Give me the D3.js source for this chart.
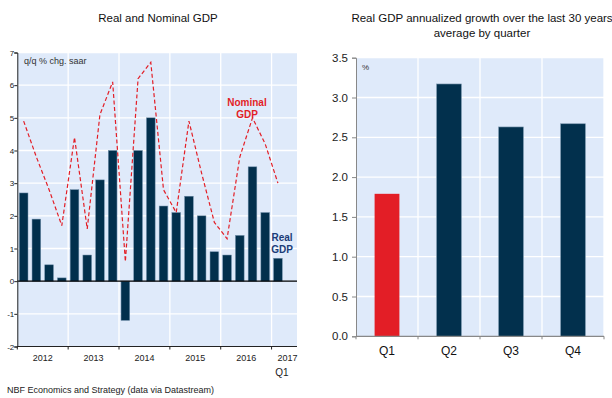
<!DOCTYPE html>
<html>
<head>
<meta charset="utf-8">
<script src="https://cdn.jsdelivr.net/npm/d3@7"></script>
<style>
  html, body { margin: 0; padding: 0; background: #fff; }
  svg { display: block; font-family: "Liberation Sans", Arial, sans-serif; }
  .narrow { font-family: "Liberation Sans Narrow", "Liberation Sans", Arial, sans-serif; }
</style>
</head>
<body>
<svg id="chart" width="612" height="398"></svg>
<script>
// Quarterly US GDP, q/q % change at a seasonally adjusted annual rate
const quarters = [
  "2012Q1","2012Q2","2012Q3","2012Q4",
  "2013Q1","2013Q2","2013Q3","2013Q4",
  "2014Q1","2014Q2","2014Q3","2014Q4",
  "2015Q1","2015Q2","2015Q3","2015Q4",
  "2016Q1","2016Q2","2016Q3","2016Q4",
  "2017Q1","2017Q2"
];
const realGDP = [2.7, 1.9, 0.5, 0.1, 2.8, 0.8, 3.1, 4.0, -1.2, 4.0, 5.0, 2.3,
                 2.1, 2.6, 2.0, 0.9, 0.8, 1.4, 3.5, 2.1, 0.7];
const nominalGDP = [4.9, 3.8, 2.8, 1.7, 4.4, 1.6, 5.1, 6.1, 0.6, 6.2, 6.7, 2.8,
                    2.1, 4.9, 3.3, 1.8, 1.3, 3.8, 5.0, 4.2, 3.0];
const yearLabels = ["2012", "2013", "2014", "2015", "2016", "2017"];
const leftTicks = [-2, -1, 0, 1, 2, 3, 4, 5, 6, 7];

// 30-year average of annualized real GDP growth, by quarter
const quarterNames = ["Q1", "Q2", "Q3", "Q4"];
const quarterAvg = [1.79, 3.17, 2.63, 2.67];
const rightTicks = [0, 0.5, 1, 1.5, 2, 2.5, 3, 3.5];

const svg = d3.select("#chart");
const BG = "#dfeafa";
const NAVY = "#02304d";
const RED = "#e31e26";

// ---------- Left panel: Real and Nominal GDP ----------
const L = { x0: 17.3, x1: 297, yTop: 52.5, yBot: 346.5 };
const xL = d3.scaleBand().domain(quarters).range([L.x0, L.x1]).paddingInner(0.32).paddingOuter(0.16);
const yL = d3.scaleLinear().domain([-2, 7]).range([L.yBot, L.yTop]);
const step = xL.step();
const yearEdge = i => L.x0 + i * 4 * step;

const gL = svg.append("g");
gL.append("rect").attr("x", L.x0).attr("y", L.yTop)
  .attr("width", L.x1 - L.x0).attr("height", L.yBot - L.yTop).attr("fill", BG);

// gridlines
gL.selectAll("line.hgrid").data(leftTicks.filter(d => d !== -2 && d !== 0)).join("line")
  .attr("x1", L.x0).attr("x2", L.x1).attr("y1", d => yL(d)).attr("y2", d => yL(d))
  .attr("stroke", "#fff").attr("stroke-width", 1.3);
gL.selectAll("line.vgrid").data(d3.range(1, 6)).join("line")
  .attr("x1", d => yearEdge(d)).attr("x2", d => yearEdge(d))
  .attr("y1", L.yTop).attr("y2", L.yBot)
  .attr("stroke", "#fff").attr("stroke-width", 1.3);

// bars
gL.selectAll("rect.bar").data(realGDP).join("rect")
  .attr("x", (d, i) => xL(quarters[i]))
  .attr("width", xL.bandwidth())
  .attr("y", d => yL(Math.max(0, d)))
  .attr("height", d => Math.abs(yL(d) - yL(0)))
  .attr("fill", NAVY).attr("stroke", "#6b8aa6").attr("stroke-width", 0.5);

// zero line
gL.append("line").attr("x1", L.x0).attr("x2", L.x1)
  .attr("y1", yL(0)).attr("y2", yL(0)).attr("stroke", "#000").attr("stroke-width", 1.2);

// nominal GDP dashed line
const line = d3.line()
  .x((d, i) => xL(quarters[i]) + xL.bandwidth() / 2)
  .y(d => yL(d));
gL.append("path").datum(nominalGDP).attr("d", line)
  .attr("fill", "none").attr("stroke", RED).attr("stroke-width", 1.2)
  .attr("stroke-dasharray", "4,2.5");

// y axis (plain hyphen for negatives)
const axL = d3.axisLeft(yL).tickValues(leftTicks).tickSize(3).tickFormat(d => String(d));
const gAxL = gL.append("g").attr("transform", `translate(${L.x0},0)`).call(axL);
gAxL.select(".domain").attr("stroke", "#222");
gAxL.selectAll(".tick line").attr("stroke", "#222");
gAxL.selectAll(".tick text").attr("class", "narrow").attr("font-size", 8).attr("fill", "#222").attr("x", -3);

// x axis with year boundaries
const gX = gL.append("g");
gX.append("line").attr("x1", L.x0).attr("x2", L.x1).attr("y1", L.yBot).attr("y2", L.yBot)
  .attr("stroke", "#222").attr("stroke-width", 1.2);
gX.selectAll("line.tk").data(d3.range(0, 6)).join("line")
  .attr("x1", d => yearEdge(d)).attr("x2", d => yearEdge(d))
  .attr("y1", L.yBot).attr("y2", L.yBot + 3).attr("stroke", "#222");
gX.selectAll("text.yr").data(yearLabels).join("text")
  .attr("class", "narrow")
  .attr("x", (d, i) => i < 5 ? yearEdge(i) + 2 * step : yearEdge(5) + 1.25 * step)
  .attr("y", 361).attr("text-anchor", "middle").attr("font-size", 9).attr("fill", "#222")
  .text(d => d);
gX.append("text").attr("x", xL("2017Q1") + xL.bandwidth() / 2 + 4).attr("y", 376)
  .attr("text-anchor", "middle").attr("font-size", 10).attr("fill", "#222").text("Q1");

gL.append("text").attr("x", 24).attr("y", 64).attr("font-size", 9).attr("fill", "#333")
  .text("q/q % chg. saar");

// series labels
const nomLbl = gL.append("text").attr("text-anchor", "middle").attr("font-size", 10)
  .attr("font-weight", "bold").attr("fill", RED);
nomLbl.append("tspan").attr("x", 247).attr("y", 106).text("Nominal");
nomLbl.append("tspan").attr("x", 247).attr("y", 118).text("GDP");
const realLbl = gL.append("text").attr("text-anchor", "middle").attr("font-size", 10)
  .attr("font-weight", "bold").attr("fill", "#1b3c78");
realLbl.append("tspan").attr("x", 282).attr("y", 241).text("Real");
realLbl.append("tspan").attr("x", 282).attr("y", 253).text("GDP");

svg.append("text").attr("x", 158).attr("y", 22).attr("text-anchor", "middle")
  .attr("font-size", 11.5).attr("fill", "#111").text("Real and Nominal GDP");

// ---------- Right panel: average growth by quarter ----------
const R = { x0: 356, x1: 604, yTop: 57.7, yBot: 336.3 };
const xR = d3.scaleBand().domain(quarterNames).range([R.x0, R.x1]).paddingInner(0.6).paddingOuter(0.3);
const yR = d3.scaleLinear().domain([0, 3.5]).range([R.yBot, R.yTop]);
const stepR = xR.step();

const gR = svg.append("g");
gR.append("rect").attr("x", R.x0).attr("y", R.yTop)
  .attr("width", R.x1 - R.x0).attr("height", R.yBot - R.yTop).attr("fill", BG);
gR.selectAll("line.hgrid").data(rightTicks.slice(1)).join("line")
  .attr("x1", R.x0).attr("x2", R.x1).attr("y1", d => yR(d)).attr("y2", d => yR(d))
  .attr("stroke", "#fff").attr("stroke-width", 1.3);
gR.selectAll("line.vgrid").data(d3.range(1, 5)).join("line")
  .attr("x1", d => R.x0 + d * stepR).attr("x2", d => R.x0 + d * stepR)
  .attr("y1", R.yTop).attr("y2", R.yBot)
  .attr("stroke", "#fff").attr("stroke-width", 1.3);

gR.selectAll("rect.bar").data(quarterAvg).join("rect")
  .attr("x", (d, i) => xR(quarterNames[i]))
  .attr("width", xR.bandwidth())
  .attr("y", d => yR(d))
  .attr("height", d => yR(0) - yR(d))
  .attr("fill", (d, i) => i === 0 ? RED : NAVY)
  .attr("stroke", (d, i) => i === 0 ? "none" : "#7d98b0").attr("stroke-width", 0.6);

const axR = d3.axisLeft(yR).tickValues(rightTicks).tickSize(4).tickFormat(d3.format(".1f"));
const gAxR = gR.append("g").attr("transform", `translate(${R.x0},0)`).call(axR);
gAxR.select(".domain").attr("stroke", "#888");
gAxR.selectAll(".tick line").attr("stroke", "#888");
gAxR.selectAll(".tick text").attr("font-size", 11.5).attr("fill", "#222").attr("x", -8);

gR.append("line").attr("x1", R.x0).attr("x2", R.x1).attr("y1", R.yBot).attr("y2", R.yBot)
  .attr("stroke", "#888").attr("stroke-width", 1.2);
gR.selectAll("line.tk").data(d3.range(0, 5)).join("line")
  .attr("x1", d => R.x0 + d * stepR).attr("x2", d => R.x0 + d * stepR)
  .attr("y1", R.yBot).attr("y2", R.yBot + 3).attr("stroke", "#888");
gR.selectAll("text.q").data(quarterNames).join("text")
  .attr("x", d => xR(d) + xR.bandwidth() / 2).attr("y", 355)
  .attr("text-anchor", "middle").attr("font-size", 12).attr("fill", "#111").text(d => d);

gR.append("text").attr("x", 362).attr("y", 70).attr("font-size", 8).attr("fill", "#333").text("%");

const tR = svg.append("text").attr("text-anchor", "middle").attr("font-size", 11.5).attr("fill", "#111");
tR.append("tspan").attr("x", 482).attr("y", 22).text("Real GDP annualized growth over the last 30 years");
tR.append("tspan").attr("x", 482).attr("y", 37).text("average by quarter");

// source
svg.append("text").attr("x", 7).attr("y", 393).attr("font-size", 9).attr("fill", "#222")
  .text("NBF Economics and Strategy (data via Datastream)");
</script>
</body>
</html>
